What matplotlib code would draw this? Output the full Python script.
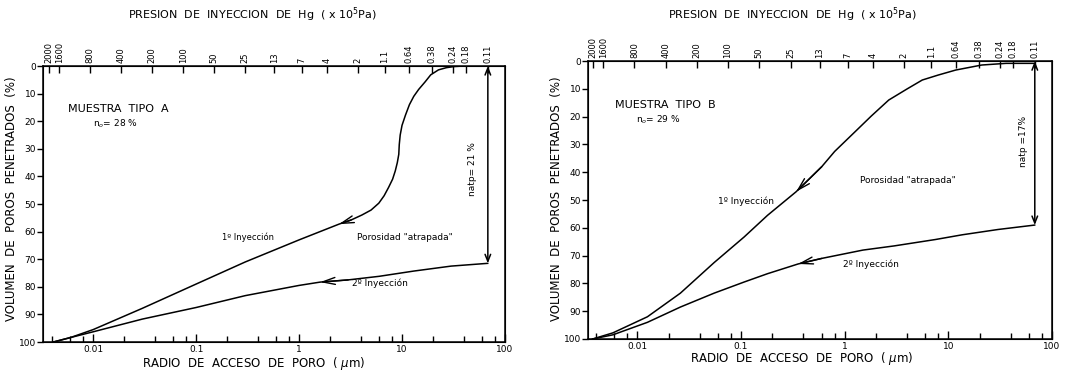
import matplotlib.pyplot as plt
from matplotlib.ticker import FixedLocator, NullLocator, NullFormatter, LogLocator

# presion de inyeccion (x1e5 Pa) -> radio (um): r = 7.5 / P
K_WASH = 7.5
presion = [2000, 1600, 800, 400, 200, 100, 50, 25, 13, 7, 4, 2, 1.1, 0.64, 0.38, 0.24, 0.18, 0.11]
presion_lbl = ['2000', '1600', '800', '400', '200', '100', '50', '25', '13', '7', '4', '2',
               '1.1', '0.64', '0.38', '0.24', '0.18', '0.11']
radio_ticks = [0.01, 0.1, 1, 10, 100]
radio_lbl = ['0.01', '0.1', '1', '10', '100']

# muestra tipo A
r_a1 = [68, 40, 32, 27, 22.6, 19, 16.8, 14.5, 13, 11.8, 10.8, 10, 9.6, 9.4, 9.3, 9.0, 8.6, 8.1,
        7.4, 6.7, 5.95, 5.0, 4.07, 3.2, 2.44, 1.0, 0.3, 0.1, 0.03, 0.01, 0.006, 0.0041]
v_a1 = [0, 0, 0.2, 0.6, 1.4, 3.2, 5.7, 8.5, 11, 14, 17.8, 21.5, 25, 28.5, 32, 35, 38, 41,
        44, 47, 49.7, 52.2, 54, 55.8, 57.3, 63, 71, 79, 87.8, 95.5, 98.4, 100]
r_a2 = [68, 30, 13, 6, 3, 1.6, 1.0, 0.3, 0.1, 0.03, 0.01, 0.006, 0.0041]
v_a2 = [71.5, 72.5, 74.3, 76.2, 77.5, 78.3, 79.5, 83.2, 87.5, 91.7, 96.3, 98.4, 100]
atp_a = 21
n0_a = 28

# muestra tipo B
r_b1 = [68, 36, 21, 11.8, 8, 5.6, 4, 2.66, 1.8, 1.26, 0.8, 0.6, 0.34, 0.18, 0.107, 0.055,
        0.026, 0.0125, 0.0058, 0.0037]
v_b1 = [0.8, 0.8, 1.4, 3.2, 5.0, 6.8, 10.0, 14, 19.8, 25.4, 32.5, 38, 47, 55.5, 63.3, 72.5,
        83.5, 92, 97.8, 100]
r_b2 = [68, 30, 13.6, 7.5, 3, 1.5, 0.6, 0.355, 0.18, 0.107, 0.055, 0.026, 0.0125, 0.0058, 0.0037]
v_b2 = [59, 60.6, 62.5, 64.2, 66.5, 68, 71, 73, 76.5, 79.5, 83.5, 88.5, 94, 98.5, 100]
atp_b = 17
n0_b = 29

r_atp = K_WASH / presion[-1]

fig = plt.figure(figsize=(10.66, 3.75), dpi=100)
axA = fig.add_axes([0.0403, 0.088, 0.4334, 0.736])
axB = fig.add_axes([0.5516, 0.096, 0.4353, 0.741])


def flecha(ax, r, v, i, w=1.0):
    ax.annotate('', xy=(r[i], v[i]), xytext=(r[i - 1], v[i - 1]),
                arrowprops=dict(arrowstyle='->,head_length=0.9,head_width=0.25',
                                lw=w, color='black', shrinkA=0, shrinkB=0))


def panel(ax, r1, v1, r2, v2, i1, i2, xmin):
    ax.plot(r1, v1, 'k-', lw=1.1)
    ax.plot(r2, v2, 'k-', lw=1.1)
    flecha(ax, r1, v1, i1)
    flecha(ax, r2, v2, i2)
    # porosidad atrapada
    ax.annotate('', xy=(r_atp, v2[0]), xytext=(r_atp, 0),
                arrowprops=dict(arrowstyle='<->,head_length=0.5,head_width=0.2',
                                lw=1.1, color='black', shrinkA=0, shrinkB=0))
    ax.set_xscale('log')
    ax.set_xlim(xmin, 100)
    ax.set_ylim(100, 0)
    ax.set_yticks(range(0, 101, 10))
    ax.set_xticks(radio_ticks)
    ax.set_xticklabels(radio_lbl)
    ax.xaxis.set_minor_locator(LogLocator(base=10, subs=(2, 4, 6, 8)))
    ax.xaxis.set_minor_formatter(NullFormatter())
    ax.tick_params(axis='x', which='major', direction='in', length=6, width=1, labelsize=6.5, pad=2)
    ax.tick_params(axis='x', which='minor', direction='in', length=4, width=1)
    ax.tick_params(axis='y', direction='out', length=4, width=1, labelsize=6.5, pad=1)
    for s in ax.spines.values():
        s.set_linewidth(1.1)

    top = ax.twiny()
    top.set_xscale('log')
    top.set_xlim(ax.get_xlim())
    top.xaxis.set_major_locator(FixedLocator([K_WASH / p for p in presion]))
    top.xaxis.set_minor_locator(NullLocator())
    top.set_xticklabels(presion_lbl, rotation=90, fontsize=6)
    top.tick_params(axis='x', direction='in', length=5, width=1, pad=2)


panel(axA, r_a1, v_a1, r_a2, v_a2, r_a1.index(2.44), r_a2.index(1.6), 0.00325)
panel(axB, r_b1, v_b1, r_b2, v_b2, r_b1.index(0.34), r_b2.index(0.355), 0.00334)

# textos panel A
axA.text(0.054, 0.844, 'MUESTRA  TIPO  A', transform=axA.transAxes, fontsize=8, va='center')
axA.text(0.108, 0.79, 'n$_o$= %d %%' % n0_a, transform=axA.transAxes, fontsize=6.5, va='center')
axA.text(0.444, 0.38, '1º Inyección', transform=axA.transAxes, fontsize=6, ha='center', va='center')
axA.text(0.784, 0.38, 'Porosidad "atrapada"', transform=axA.transAxes, fontsize=6.5,
         ha='center', va='center')
axA.text(0.729, 0.214, '2º Inyección', transform=axA.transAxes, fontsize=6.5, ha='center', va='center')
axA.text(0.929, 0.627, 'natp= %d %%' % atp_a, transform=axA.transAxes, fontsize=6.5,
         rotation=90, ha='center', va='center')

# textos panel B
axB.text(0.058, 0.842, 'MUESTRA  TIPO  B', transform=axB.transAxes, fontsize=8, va='center')
axB.text(0.103, 0.788, 'n$_o$= %d %%' % n0_b, transform=axB.transAxes, fontsize=6.5, va='center')
axB.text(0.341, 0.496, '1º Inyección', transform=axB.transAxes, fontsize=6.5, ha='center', va='center')
axB.text(0.69, 0.572, 'Porosidad "atrapada"', transform=axB.transAxes, fontsize=6.5,
         ha='center', va='center')
axB.text(0.61, 0.27, '2º Inyección', transform=axB.transAxes, fontsize=6.5, ha='center', va='center')
axB.text(0.9375, 0.712, 'natp =%d%%' % atp_b, transform=axB.transAxes, fontsize=6.5,
         rotation=90, ha='center', va='center')

# titulos y ejes
titulo = 'PRESION  DE  INYECCION  DE  Hg  ( x 10$^5$Pa)'
xlab = 'RADIO  DE  ACCESO  DE  PORO  ( $\\mu$m)'
ylab = 'VOLUMEN  DE  POROS  PENETRADOS  (%)'
fig.text(0.237, 0.96, titulo, ha='center', va='center', fontsize=8)
fig.text(0.743, 0.96, titulo, ha='center', va='center', fontsize=8)
fig.text(0.238, 0.032, xlab, ha='center', va='center', fontsize=8.5)
fig.text(0.752, 0.045, xlab, ha='center', va='center', fontsize=8.5)
fig.text(0.011, 0.47, ylab, ha='center', va='center', fontsize=8.5, rotation=90)
fig.text(0.522, 0.47, ylab, ha='center', va='center', fontsize=8.5, rotation=90)

fig.savefig('out.png', dpi=100)
